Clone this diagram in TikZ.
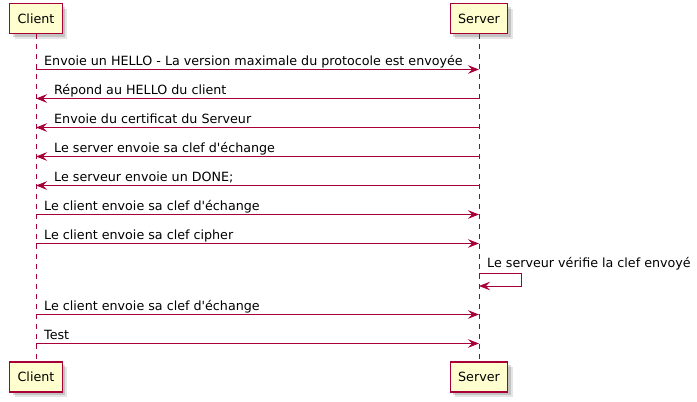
\documentclass[tikz,border=0pt]{standalone}
\usepackage{fontspec}
\setmainfont{DejaVu Sans}
\usetikzlibrary{arrows.meta, positioning}
\definecolor{umlred}{HTML}{A80036}
\definecolor{umlfill}{HTML}{FEFECE}
\newcommand{\umlfont}{\fontsize{12.7}{15}\selectfont}
\tikzstyle{actor} = [draw=umlred, fill=umlfill, line width=1.2pt, rectangle, inner xsep=8pt, minimum height=30pt, font=\umlfont,
  preaction={fill=black, opacity=.10, transform canvas={xshift=5pt, yshift=-5pt}},
  preaction={fill=black, opacity=.15, transform canvas={xshift=3pt, yshift=-3pt}}]
\tikzstyle{lifeline} = [draw=umlred, line width=0.9pt, dash pattern=on 5pt off 5pt]
\tikzstyle{msg} = [draw=umlred, line width=0.9pt, -{Stealth[length=11pt, width=8.5pt, inset=4pt]}]
\tikzstyle{msgtext} = [anchor=base west, inner sep=0pt, font=\umlfont]

\begin{document}
\begin{tikzpicture}[x=1pt, y=-1pt]
    \useasboundingbox (0,0) rectangle (697,402);
    \node[actor] (client) at (36,18.5) {Client};
    \node[actor] (server) at (479,18.5) {Server};
    \node[actor] (clientb) at (36,377) {Client};
    \node[actor] (serverb) at (479,377) {Server};
    \draw[lifeline] (client) -- (clientb);
    \draw[lifeline] (server) -- (serverb);
    % points on the lifelines
    \foreach \n/\y in {1/69.5, 2/98.5, 3/127.5, 4/156.5, 5/185.5, 6/214.5, 7/243.5, 8/273, 9/314.5, 10/343.5} {
        \coordinate (c\n) at (36,\y);
        \coordinate (s\n) at (479,\y);
    }
    \coordinate (s8b) at (479,286);
    \node[msgtext] (l1) at (44,65) {Envoie un HELLO - La version maximale du protocole est envoyée};
    \node[msgtext] (l2) at (54,94) {Répond au HELLO du client};
    \node[msgtext] (l3) at (54,123) {Envoie du certificat du Serveur};
    \node[msgtext] (l4) at (54,152) {Le server envoie sa clef d\textquotesingle échange};
    \node[msgtext] (l5) at (54,181) {Le serveur envoie un DONE;};
    \node[msgtext] (l6) at (44,210) {Le client envoie sa clef d\textquotesingle échange};
    \node[msgtext] (l7) at (44,239) {Le client envoie sa clef cipher};
    \node[msgtext] (l8) at (487,267) {Le serveur vérifie la clef envoyé};
    \node[msgtext] (l9) at (44,310) {Le client envoie sa clef d\textquotesingle échange};
    \node[msgtext] (l10) at (44,339) {Test};
    \draw[msg] (c1) -- (s1);
    \draw[msg] (s2) -- (c2);
    \draw[msg] (s3) -- (c3);
    \draw[msg] (s4) -- (c4);
    \draw[msg] (s5) -- (c5);
    \draw[msg] (c6) -- (s6);
    \draw[msg] (c7) -- (s7);
    \draw[msg] (s8) -- ++(42,0) |- (s8b);
    \draw[msg] (c9) -- (s9);
    \draw[msg] (c10) -- (s10);
\end{tikzpicture}
\end{document}
